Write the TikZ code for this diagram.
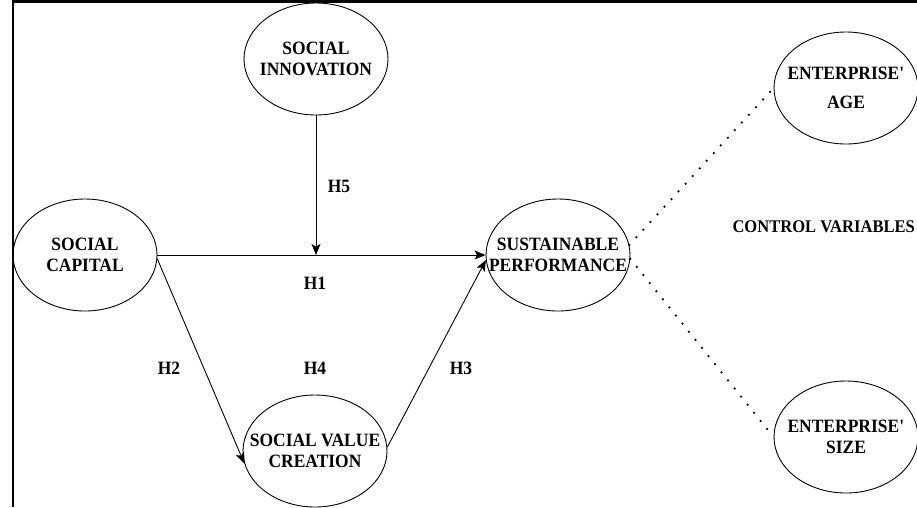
\documentclass[tikz,border=0pt]{standalone}
\usepackage{fontspec}
\setmainfont{Liberation Serif}[FakeStretch=0.93]
\usetikzlibrary{shapes,arrows.meta,positioning,calc}

\begin{document}
\begin{tikzpicture}[
    x=1pt, y=-1pt,
    construct/.style={ellipse, draw=black, line width=0.9pt, minimum width=144pt, minimum height=112pt, inner sep=-20pt, align=center, font=\fontsize{18.8}{21.5}\selectfont\bfseries},
    hyp/.style={font=\fontsize{18.8}{21}\selectfont\bfseries},
    link/.style={-{Stealth[length=11pt, width=9pt, inset=2.5pt]}, line width=0.9pt},
    control/.style={line width=2.5pt, line cap=round, dash pattern=on 0pt off 10.4pt}
]
\useasboundingbox (0,0) rectangle (917,507);

% Frame
\draw[line width=2.6pt] (13,507) -- (13,1.5) -- (917,1.5);

% Constructs
\node[construct] (si) at (316,59) {SOCIAL\\INNOVATION};
\node[construct] (sc) at (85,255) {SOCIAL\\CAPITAL};
\node[construct] (sp) at (558,255) {SUSTAINABLE\\PERFORMANCE};
\node[construct] (svc) at (315,451) {SOCIAL VALUE\\CREATION};
\node[construct, font=\fontsize{18.8}{29}\selectfont\bfseries] (age) at (846,88) {ENTERPRISE\textquotesingle\\AGE};
\node[construct] (size) at (846,437) {ENTERPRISE\textquotesingle\\SIZE};
\node[hyp, anchor=west, font=\fontsize{17.8}{21}\selectfont\bfseries] (ctrl) at (729,227) {CONTROL VARIABLES};

% Hypotheses
\coordinate (mod) at (si.south |- sc.east);
\draw[link] (sc.east) -- (sp.west);
\draw[link] (si) -- (mod);
\draw[link] (sc.-3) -- (svc.190);
\draw[link] (svc.3) -- (sp.184);

% Control variables
\draw[control] (sp.8) -- (age.west);
\draw[control] (sp.-3) -- (size.west);

% Labels
\node[hyp] (h5) at (339,186) {H5};
\node[hyp] (h1) at (315,283) {H1};
\node[hyp] (h2) at (169,368) {H2};
\node[hyp] (h4) at (315,368) {H4};
\node[hyp] (h3) at (461,368) {H3};

\end{tikzpicture}
\end{document}
